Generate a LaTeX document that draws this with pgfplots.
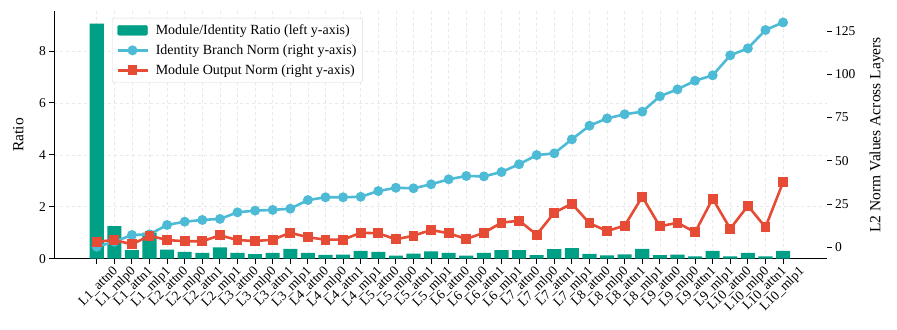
\documentclass[border=0pt]{standalone}
\usepackage{fontspec}
\setmainfont{Liberation Serif}
\usepackage{pgfplots}
\usepackage{pgfplotstable}
\pgfplotsset{compat=1.18}
\definecolor{cteal}{HTML}{00A087}
\definecolor{cblue}{HTML}{4DBBD5}
\definecolor{cred}{HTML}{E64B35}

\pgfplotstableread{
x ratio ident mod
0 9.05 0.3 3.2
1 1.25 3.2 4.2
2 0.33 7.1 1.7
3 1.00 7.5 6.7
4 0.35 12.9 4.2
5 0.26 14.8 3.5
6 0.22 15.8 3.5
7 0.44 16.4 6.9
8 0.22 20.2 4.2
9 0.18 21.2 3.6
10 0.22 21.6 4.4
11 0.38 22.3 8.4
12 0.22 27.3 5.8
13 0.15 28.9 4.4
14 0.16 28.9 4.4
15 0.30 29.2 8.4
16 0.26 32.5 8.1
17 0.12 34.4 4.6
18 0.20 34.1 6.7
19 0.28 36.4 10.0
20 0.22 39.3 8.1
21 0.12 41.2 4.8
22 0.22 41.0 8.4
23 0.33 43.5 14.2
24 0.33 48.0 15.4
25 0.14 53.3 7.3
26 0.37 54.3 20.0
27 0.41 62.4 25.2
28 0.19 70.3 13.9
29 0.13 74.5 9.4
30 0.17 76.9 12.5
31 0.38 78.4 29.2
32 0.14 87.3 12.1
33 0.16 91.3 14.2
34 0.09 96.3 8.7
35 0.30 99.4 28.1
36 0.09 111.0 10.7
37 0.22 115.0 24.0
38 0.09 125.6 11.6
39 0.30 130.0 37.6
}\datatable

\pgfplotsset{
  common/.style={
    scale only axis, width=772.4bp, height=247.7bp,
    at={(54.3bp,71.3bp)}, anchor=south west,
    xmin=-2.41, xmax=41.48,
    /pgf/number format/assume math mode=true,
    tick align=outside, major tick length=5bp,
    tick style={black, line width=0.9bp},
    axis line style={line width=0.9bp},
    ticklabel style={font=\fontsize{13.5bp}{15bp}\selectfont},
    label style={font=\fontsize{15.5bp}{17bp}\selectfont},
  }
}

\begin{document}
\begin{tikzpicture}[font=\fontsize{14bp}{16bp}\selectfont]
\useasboundingbox (0,0) rectangle (897bp,330bp);
\begin{axis}[common,
  ybar, bar width=0.8, bar shift=0pt,
  ymin=0, ymax=9.54,
  axis x line*=bottom, axis y line*=left,
  xtick={0,...,39},
  xticklabels={L1\_attn0,L1\_mlp0,L1\_attn1,L1\_mlp1,L2\_attn0,L2\_mlp0,L2\_attn1,L2\_mlp1,L3\_attn0,L3\_mlp0,L3\_attn1,L3\_mlp1,L4\_attn0,L4\_mlp0,L4\_attn1,L4\_mlp1,L5\_attn0,L5\_mlp0,L5\_attn1,L5\_mlp1,L6\_attn0,L6\_mlp0,L6\_attn1,L6\_mlp1,L7\_attn0,L7\_mlp0,L7\_attn1,L7\_mlp1,L8\_attn0,L8\_mlp0,L8\_attn1,L8\_mlp1,L9\_attn0,L9\_mlp0,L9\_attn1,L9\_mlp1,L10\_attn0,L10\_mlp0,L10\_attn1,L10\_mlp1},
  x tick label style={xshift=15bp, rotate=45, anchor=north east, inner sep=1bp, font=\fontsize{13.5bp}{15bp}\selectfont},
  ytick={0,2,4,6,8},
  ylabel={Ratio},
  ylabel style={at={(axis description cs:-0.0466,0.5)}, anchor=center},
  grid=major, grid style={dashed, gray!18, line width=0.6bp},
]
\addplot[fill=cteal, draw=none] table[x=x,y=ratio]{\datatable};
\end{axis}
\begin{axis}[common,
  ymin=-6.6, ymax=136.6, clip=false,
  axis x line=none, axis y line*=right,
  y axis line style={draw=none},
  ytick={0,25,50,75,100,125},
  legend style={at={(0.0747,0.972)}, anchor=north west, draw=gray!30, rounded corners=2bp,
    fill=white,
    font=\fontsize{14bp}{16bp}\selectfont, inner xsep=4bp, inner ysep=4.5bp, row sep=4.8bp, column sep=5bp},
  legend cell align=left,
]
\addlegendimage{legend image code/.code={\fill[cteal] (0bp,-5bp) rectangle (30bp,5bp);}}
\addlegendentry{Module/Identity Ratio (left y-axis)}
\addplot[cblue, line width=2.6bp, mark=*, mark size=3.6bp, mark options={solid, draw=cblue, fill=cblue},
  legend image code/.code={\draw[mark repeat=2, mark phase=2] plot coordinates {(0bp,0bp) (15bp,0bp) (30bp,0bp)};}]
  table[x=x,y=ident]{\datatable};
\addlegendentry{Identity Branch Norm (right y-axis)}
\addplot[cred, line width=2.6bp, mark=square*, mark size=3.6bp, mark options={solid, draw=cred, fill=cred},
  legend image code/.code={\draw[mark repeat=2, mark phase=2] plot coordinates {(0bp,0bp) (15bp,0bp) (30bp,0bp)};}]
  table[x=x,y=mod]{\datatable};
\addlegendentry{Module Output Norm (right y-axis)}
\node[rotate=90, anchor=center, font=\fontsize{15.5bp}{17bp}\selectfont] at (rel axis cs:1.0647,0.5) {L2 Norm Values Across Layers};
\end{axis}
\end{tikzpicture}
\end{document}
